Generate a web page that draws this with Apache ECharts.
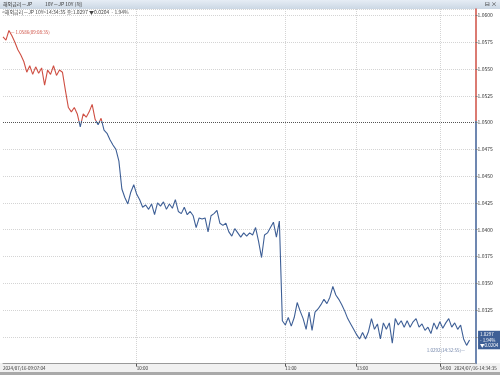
<!DOCTYPE html>
<html>
<head>
<meta charset="utf-8">
<script src="https://cdn.jsdelivr.net/npm/echarts@6/dist/echarts.min.js"></script>
<style>
  html, body { margin: 0; padding: 0; background: #fff; }
  #chart { width: 500px; height: 375px; }
</style>
</head>
<body>
<div id="chart"></div>
<script>
// JP 10Y intraday, 2024/07/16
const prices = [
  1.0580, 1.0577, 1.0586, 1.0581, 1.0575, 1.0568, 1.0563, 1.0557, 1.0547, 1.0553,
  1.0545, 1.0552, 1.0546, 1.0551, 1.0535, 1.0549, 1.0545, 1.0553, 1.0544, 1.0549,
  1.0547, 1.0530, 1.0514, 1.0510, 1.0514, 1.0508, 1.0496, 1.0508, 1.0505, 1.0510,
  1.0517, 1.0503, 1.0498, 1.0504, 1.0493, 1.0490, 1.0484, 1.0479, 1.0475, 1.0464,
  1.0438, 1.0430, 1.0424, 1.0435, 1.0442, 1.0433, 1.0428, 1.0421, 1.0423, 1.0419,
  1.0424, 1.0414, 1.0425, 1.0422, 1.0426, 1.0419, 1.0424, 1.0420, 1.0428, 1.0417,
  1.0415, 1.0421, 1.0414, 1.0417, 1.0413, 1.0402, 1.0411, 1.0410, 1.0411, 1.0398,
  1.0413, 1.0415, 1.0418, 1.0406, 1.0404, 1.0406, 1.0398, 1.0394, 1.0401, 1.0397,
  1.0393, 1.0397, 1.0394, 1.0397, 1.0395, 1.0402, 1.0389, 1.0374, 1.0395, 1.0397,
  1.0402, 1.0407, 1.0393, 1.0408, 1.0315, 1.0311, 1.0318, 1.0310, 1.0318, 1.0332,
  1.0324, 1.0317, 1.0307, 1.0323, 1.0306, 1.0323, 1.0326, 1.0330, 1.0335, 1.0331,
  1.0337, 1.0347, 1.0339, 1.0335, 1.0330, 1.0324, 1.0317, 1.0312, 1.0307, 1.0302,
  1.0298, 1.0304, 1.0298, 1.0305, 1.0317, 1.0307, 1.0312, 1.0298, 1.0313, 1.0307,
  1.0313, 1.0294, 1.0317, 1.0311, 1.0315, 1.0309, 1.0315, 1.0309, 1.0314, 1.0317,
  1.0309, 1.0312, 1.0306, 1.0309, 1.0303, 1.0313, 1.0307, 1.0314, 1.0308, 1.0313,
  1.0317, 1.0309, 1.0313, 1.0307, 1.0311, 1.0298, 1.0292, 1.0297
]
const slotCount = 160
const tickIndex = [0, 45, 95, 119, 147, 159]
const tickLabels = ['2024/07/16-09:07:04', '10:00', '11:00', '13:00', '14:00', '2024/07/16-14:34:35']
const gridIndex = [45, 95, 119, 147]
const prevClose = 1.0501
const maxTime = '09:08:35'
const minTime = '14:32:55'
const yMin = 1.0275
const yMax = 1.0606

const upColor = '#cf4f43'
const downColor = '#3e5f96'

const slots = []
for (let i = 0; i < slotCount; i++) slots.push(i)
const last = prices[prices.length - 1]
const change = last - prevClose
const pct = change / prevClose * 100
const splitAt = (yMax - prevClose) / (yMax - yMin)

const chart = echarts.init(document.getElementById('chart'))
chart.setOption({
  animation: false,
  backgroundColor: '#fff',
  textStyle: { fontFamily: 'Noto Sans CJK KR, DejaVu Sans, sans-serif' },
  graphic: [
    {
      type: 'rect', left: 0, top: 0, z: -1,
      shape: { width: 500, height: 9 },
      style: {
        fill: new echarts.graphic.LinearGradient(0, 0, 0, 1, [
          { offset: 0, color: '#e6edf5' }, { offset: 1, color: '#cbd7e4' }
        ])
      }
    },
    {
      type: 'rect', left: 0, top: 363, z: -1,
      shape: { width: 500, height: 12 },
      style: { fill: '#f1f1f1' }
    },
    {
      type: 'rect', left: 0, top: 372, z: -1,
      shape: { width: 500, height: 3 },
      style: { fill: '#a9a9a9' }
    }
  ],
  title: [
    { text: '해외금리－JP', left: 3, top: 1.5, padding: 0, textStyle: { fontSize: 5, color: '#333', fontWeight: 'normal' } },
    { text: '10Y－JP 10Y (적)', left: 45, top: 1.5, padding: 0, textStyle: { fontSize: 5, color: '#333', fontWeight: 'normal' } },
    { text: '⊟ ×', right: 3, top: 1, padding: 0, textStyle: { fontSize: 6, color: '#333', fontWeight: 'normal' } },
    {
      text: '<해외금리－JP 10Y>14:34:35 종:' + last.toFixed(4) + ' ▼' + Math.abs(change).toFixed(4) + '  - ' + Math.abs(pct).toFixed(2) + '%',
      left: 2, top: 10, padding: 0,
      textStyle: { fontSize: 5, color: '#444', fontWeight: 'normal' }
    }
  ],
  grid: { left: 0, right: 24.5, top: 9, bottom: 11.4 },
  xAxis: {
    type: 'category',
    data: slots,
    boundaryGap: false,
    axisLine: { show: true, lineStyle: { color: '#9a9a9a', width: 1 } },
    axisTick: {
      show: true, length: 3, inside: false,
      interval: (i) => gridIndex.includes(i),
      lineStyle: { color: '#555' }
    },
    axisLabel: {
      interval: (i) => tickIndex.includes(i),
      formatter: (v) => tickLabels[tickIndex.indexOf(Number(v))] || '',
      fontSize: 4.5, color: '#333', margin: 2, align: 'left',
      alignMaxLabel: 'center'
    },
    splitLine: {
      show: true,
      interval: (i) => gridIndex.includes(i),
      lineStyle: { color: '#d4d4d4', type: 'dotted' }
    }
  },
  yAxis: {
    type: 'value',
    position: 'right',
    min: yMin,
    max: yMax,
    interval: 0.0025,
    axisLine: {
      show: true,
      lineStyle: {
        width: 1.5,
        color: new echarts.graphic.LinearGradient(0, 0, 0, 1, [
          { offset: 0, color: upColor }, { offset: splitAt, color: upColor },
          { offset: splitAt, color: downColor }, { offset: 1, color: downColor }
        ])
      }
    },
    axisTick: { show: true, length: 2, lineStyle: { color: '#777' } },
    axisLabel: {
      fontSize: 5, color: '#333', margin: 2,
      showMinLabel: false, showMaxLabel: false,
      formatter: (v) => v.toFixed(4)
    },
    splitLine: { show: true, lineStyle: { color: '#d4d4d4', type: 'dotted' } }
  },
  visualMap: {
    show: false,
    type: 'piecewise',
    dimension: 1,
    seriesIndex: 0,
    pieces: [
      { min: prevClose, max: 2, color: upColor },
      { min: 0, max: prevClose, color: downColor }
    ]
  },
  series: [{
    type: 'line',
    data: prices,
    showSymbol: false,
    symbol: 'none',
    lineStyle: { width: 1.1 },
    markLine: {
      silent: true,
      symbol: 'none',
      label: { show: false },
      lineStyle: { color: '#555', type: 'dotted', width: 1 },
      data: [{ yAxis: prevClose }]
    },
    markPoint: {
      silent: true,
      symbol: 'circle',
      symbolSize: 1,
      itemStyle: { color: 'rgba(0,0,0,0)' },
      data: [
        {
          type: 'max',
          label: {
            show: true, position: 'right', distance: 1, offset: [0, 2],
            fontSize: 4.5, color: upColor,
            formatter: (p) => '— ' + p.value.toFixed(4) + '(' + maxTime + ')'
          }
        },
        {
          type: 'min',
          label: {
            show: true, position: 'left', distance: 1, offset: [0, 5],
            fontSize: 4.5, color: '#6b7fa6',
            formatter: (p) => p.value.toFixed(4) + '(' + minTime + ')—'
          }
        },
        {
          coord: [prices.length - 1, last],
          value: last,
          label: {
            show: true, position: 'right', distance: 8,
            fontSize: 4.5, color: '#fff', lineHeight: 5.5,
            backgroundColor: downColor, padding: [1, 2],
            formatter: () => last.toFixed(4) + '\n- ' + Math.abs(pct).toFixed(2) + '%\n▼' + Math.abs(change).toFixed(4)
          }
        }
      ]
    }
  }]
})
</script>
</body>
</html>
